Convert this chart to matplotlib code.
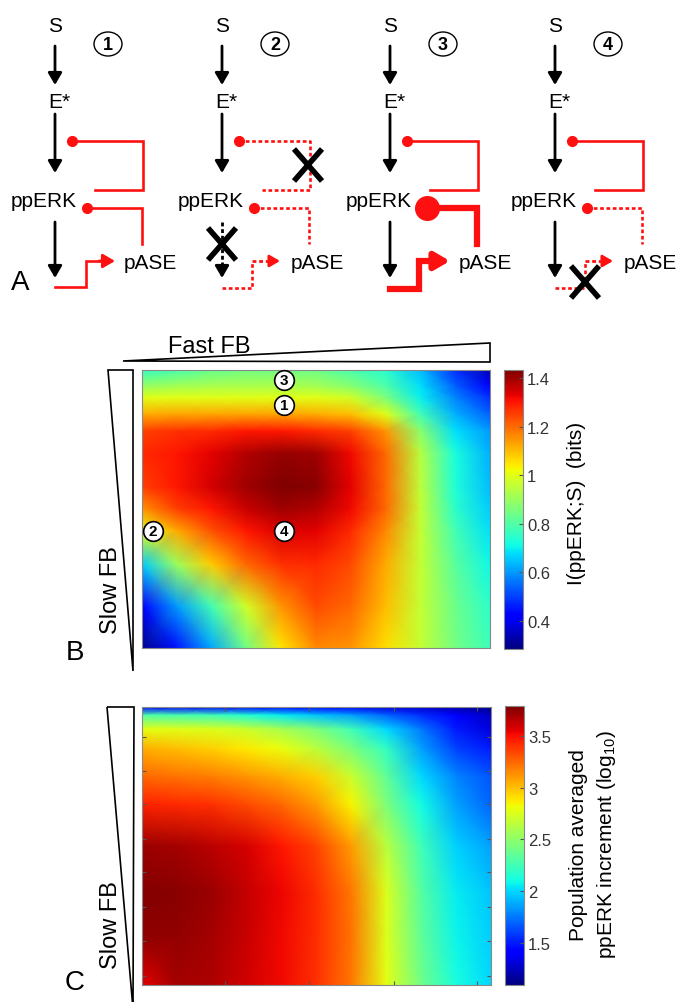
import matplotlib.pyplot as plt
from matplotlib.patches import Ellipse, Polygon
import numpy as np

plt.rcParams.update({"font.family": "Liberation Sans",
                     "mathtext.fontset": "custom",
                     "mathtext.rm": "Liberation Sans",
                     "mathtext.default": "regular"})

W, H = 677, 1003

# feedback strength grid (0 = weak, 1 = strong); rows run top -> bottom
fast_fb = [0.0, 0.1, 0.2, 0.3, 0.4, 0.5, 0.6, 0.7, 0.8, 0.9, 1.0]

# B: mutual information I(ppERK;S) in bits
slow_fb_b = [0.0, 0.06, 0.10, 0.16, 0.22, 0.30, 0.42, 0.50, 0.58, 0.70, 0.85, 1.0]
info_bits = [
    [0.76, 0.79, 0.83, 0.85, 0.85, 0.84, 0.79, 0.74, 0.64, 0.48, 0.34],
    [0.90, 0.92, 0.93, 0.93, 0.93, 0.92, 0.88, 0.80, 0.68, 0.54, 0.42],
    [1.00, 1.00, 1.00, 1.00, 1.00, 1.00, 0.98, 0.86, 0.70, 0.58, 0.48],
    [1.12, 1.13, 1.13, 1.13, 1.13, 1.12, 1.10, 1.00, 0.78, 0.63, 0.54],
    [1.25, 1.27, 1.28, 1.30, 1.30, 1.28, 1.25, 1.15, 0.88, 0.68, 0.60],
    [1.28, 1.30, 1.33, 1.38, 1.41, 1.40, 1.32, 1.20, 0.94, 0.72, 0.63],
    [1.25, 1.30, 1.35, 1.40, 1.43, 1.42, 1.33, 1.20, 0.95, 0.73, 0.64],
    [1.15, 1.25, 1.30, 1.36, 1.40, 1.38, 1.32, 1.20, 0.96, 0.75, 0.66],
    [1.00, 1.12, 1.23, 1.30, 1.34, 1.33, 1.28, 1.16, 0.96, 0.78, 0.68],
    [0.66, 0.90, 1.08, 1.20, 1.27, 1.28, 1.24, 1.12, 0.96, 0.81, 0.71],
    [0.42, 0.60, 0.78, 0.98, 1.15, 1.24, 1.20, 1.10, 0.96, 0.84, 0.75],
    [0.30, 0.45, 0.62, 0.85, 1.05, 1.16, 1.15, 1.06, 0.96, 0.85, 0.77],
]
info_lim = (0.285, 1.433)
info_ticks = [0.4, 0.6, 0.8, 1.0, 1.2, 1.4]
info_ticklabels = ["0.4", "0.6", "0.8", "1", "1.2", "1.4"]

# circled cases on panel B
case_labels = ["3", "1", "2", "4"]
case_fast = [0.408, 0.408, 0.032, 0.408]
case_slow = [0.036, 0.126, 0.579, 0.579]

# C: population averaged ppERK increment (log10)
slow_fb_c = [0.0, 0.03, 0.08, 0.15, 0.25, 0.35, 0.50, 0.67, 0.82, 1.0]
increment = [
    [1.43, 1.43, 1.43, 1.42, 1.42, 1.40, 1.38, 1.33, 1.28, 1.20, 1.12],
    [2.30, 2.28, 2.25, 2.15, 2.05, 1.95, 1.85, 1.70, 1.55, 1.42, 1.25],
    [2.78, 2.77, 2.75, 2.70, 2.58, 2.45, 2.25, 2.00, 1.75, 1.50, 1.32],
    [3.05, 3.00, 2.95, 2.88, 2.80, 2.65, 2.45, 2.20, 1.85, 1.60, 1.50],
    [3.25, 3.22, 3.18, 3.12, 3.05, 2.95, 2.70, 2.35, 2.00, 1.78, 1.65],
    [3.45, 3.43, 3.40, 3.33, 3.25, 3.10, 2.85, 2.45, 2.10, 1.85, 1.70],
    [3.72, 3.70, 3.65, 3.58, 3.48, 3.35, 3.10, 2.65, 2.25, 1.98, 1.85],
    [3.77, 3.76, 3.72, 3.63, 3.53, 3.42, 3.20, 2.75, 2.32, 2.05, 1.95],
    [3.75, 3.74, 3.70, 3.62, 3.52, 3.42, 3.22, 2.75, 2.35, 2.08, 1.97],
    [3.55, 3.70, 3.68, 3.60, 3.52, 3.40, 3.20, 2.78, 2.40, 2.12, 2.00],
]
incr_lim = (1.09, 3.79)
incr_ticks = [1.5, 2.0, 2.5, 3.0, 3.5]
incr_ticklabels = ["1.5", "2", "2.5", "3", "3.5"]

grid_xticks = [0.238, 0.478, 0.722, 0.961]
grid_yticks = [0.109, 0.229, 0.35, 0.475, 0.595, 0.72, 0.84, 0.966]


def frac(x0, y0, x1, y1):
    return [x0 / W, 1 - y1 / H, (x1 - x0) / W, (y1 - y0) / H]


fig = plt.figure(figsize=(W / 100, H / 100), dpi=100)


def heatmap(box, cbox, rows, vals, lim, ticks, ticklabels, grid_ticks):
    ax = fig.add_axes(frac(*box))
    mesh = ax.pcolormesh(fast_fb, rows, np.array(vals), shading="gouraud",
                         cmap="jet", vmin=lim[0], vmax=lim[1])
    ax.set_xlim(0, 1)
    ax.set_ylim(1, 0)
    if grid_ticks:
        ax.set_xticks(grid_xticks)
        ax.set_yticks(grid_yticks)
    else:
        ax.set_xticks([])
        ax.set_yticks([])
    ax.tick_params(direction="in", length=3, color="#555555", top=True,
                   right=True, labelbottom=False, labelleft=False)
    for s in ax.spines.values():
        s.set_color("#888888")
        s.set_linewidth(0.8)
    cax = fig.add_axes(frac(*cbox))
    cb = fig.colorbar(mesh, cax=cax, ticks=ticks)
    cb.ax.set_yticklabels(ticklabels)
    cb.outline.set_edgecolor("#888888")
    cb.outline.set_linewidth(0.8)
    cax.tick_params(direction="in", length=3, color="#555555", labelsize=12,
                    labelcolor="#333333", pad=3)
    return ax


ax_b = heatmap((142, 371, 490, 649), (504, 371, 523, 650), slow_fb_b,
               info_bits, info_lim, info_ticks, info_ticklabels, False)
ax_c = heatmap((142, 708, 491, 986), (505, 707, 524, 986), slow_fb_c,
               increment, incr_lim, incr_ticks, incr_ticklabels, True)

ax_b.scatter(case_fast, case_slow, s=200, facecolor="white", edgecolor="black",
             linewidth=1.2, zorder=5, clip_on=False)
for lab, x, y in zip(case_labels, case_fast, case_slow):
    ax_b.text(x, y, lab, ha="center", va="center", fontsize=11,
              fontweight="bold", zorder=6)

# overlay in pixel coordinates for the scheme, wedges and labels
ov = fig.add_axes([0, 0, 1, 1])
ov.set_xlim(0, W)
ov.set_ylim(H, 0)
ov.axis("off")
ov.patch.set_visible(False)

RED = "#ff1010"
DOT = (0, (1.4, 1.0))


def arrow(x0, y0, x1, y1, color="black", lw=2.0, ls="-", scale=13):
    if ls != "-":
        d = np.hypot(x1 - x0, y1 - y0)
        ux, uy = (x1 - x0) / d, (y1 - y0) / d
        hl = 0.55 * scale * 1.39
        ov.plot([x0, x1 - ux * hl], [y0, y1 - uy * hl], color=color, lw=lw,
                ls=ls, solid_capstyle="butt")
        x0, y0 = x1 - ux * hl, y1 - uy * hl
    ov.annotate("", xy=(x1, y1), xytext=(x0, y0),
                arrowprops=dict(arrowstyle="-|>,head_length=0.55,head_width=0.32",
                                mutation_scale=scale, lw=lw, color=color,
                                shrinkA=0, shrinkB=0))


def cross(x, y, sx=14, sy=16):
    ov.plot([x - sx, x + sx], [y - sy, y + sy], color="black", lw=4,
            solid_capstyle="butt")
    ov.plot([x - sx, x + sx], [y + sy, y - sy], color="black", lw=4,
            solid_capstyle="butt")


def inhibit(pts, ls="-", lw=1.9, ms=7):
    xs, ys = zip(*pts)
    ov.plot(xs, ys, color=RED, lw=lw, ls=ls, solid_joinstyle="miter")
    ov.plot(xs[0], ys[0], "o", color=RED, ms=ms)


txt = dict(fontsize=15, ha="center", va="baseline")
for i, x0 in enumerate([55, 222, 390, 555]):
    case = i + 1
    ov.text(x0, 32, "S", **txt)
    ov.text(x0 + 4, 108, "E*", **txt)
    ov.text(x0 - 11, 207, "ppERK", **txt)
    ov.text(x0 + 95, 269, "pASE", **txt)
    ov.add_patch(Ellipse((x0 + 53, 45), 28, 24, fill=False, lw=1.0,
                         edgecolor="black"))
    ov.text(x0 + 53, 45, str(case), ha="center", va="center", fontsize=13,
            fontweight="bold")
    arrow(x0, 47, x0, 86)
    arrow(x0, 115, x0, 174)
    arrow(x0, 223, x0, 279, ls=DOT if case == 2 else "-")

    # fast feedback
    inhibit([(x0 + 17, 142), (x0 + 88, 142), (x0 + 88, 191), (x0 + 40, 191)],
            ls=DOT if case == 2 else "-")
    # slow feedback
    if case == 3:
        inhibit([(x0 + 37, 209), (x0 + 87, 209), (x0 + 87, 245)], lw=4.5, ms=17)
    else:
        inhibit([(x0 + 32, 209), (x0 + 87, 209), (x0 + 87, 245)],
                ls="-" if case == 1 else DOT)
    # ppERK -> pASE activation
    if case == 3:
        ov.plot([x0, x0 + 29, x0 + 29, x0 + 40], [290, 290, 262, 262],
                color=RED, lw=4.5, solid_joinstyle="miter")
        arrow(x0 + 38, 262, x0 + 60, 262, color=RED, lw=4.5, scale=16)
    elif case == 1:
        ov.plot([x0, x0 + 31, x0 + 31, x0 + 45], [288, 288, 262, 262],
                color=RED, lw=1.9, solid_joinstyle="miter")
        arrow(x0 + 44, 262, x0 + 60, 262, color=RED)
    else:
        ov.plot([x0, x0 + 30, x0 + 30], [289, 289, 262], color=RED, lw=1.9,
                ls=DOT)
        arrow(x0 + 30, 262, x0 + 58, 262, color=RED, ls=DOT, scale=11)
    if case == 2:
        cross(x0 + 86, 166)
        cross(x0, 245)
    if case == 4:
        cross(x0 + 30, 283)

# feedback-strength wedges
wedge = dict(closed=True, fill=False, edgecolor="black", lw=1.2)
ov.add_patch(Polygon([(123, 362), (490, 344), (490, 363)], **wedge))
ov.add_patch(Polygon([(108, 371), (133, 371), (133, 672)], **wedge))
ov.add_patch(Polygon([(107, 708), (134, 708), (133, 1010)], **wedge))
ov.text(168, 353, "Fast FB", fontsize=17, ha="left", va="baseline")
ov.text(111, 590, "Slow FB", fontsize=17, rotation=90, ha="center", va="center")
ov.text(111, 925, "Slow FB", fontsize=17, rotation=90, ha="center", va="center")

# colorbar titles
ov.text(577, 503, "I(ppERK;S)  (bits)", fontsize=15, rotation=90,
        ha="center", va="center")
ov.text(578, 845, "Population averaged", fontsize=15, rotation=90,
        ha="center", va="center")
ov.text(607, 845, "ppERK increment (log$_{10}$)", fontsize=15, rotation=90,
        ha="center", va="center")

# panel letters
for lab, x, y in [("A", 20, 283), ("B", 75, 653), ("C", 75, 983)]:
    ov.text(x, y, lab, fontsize=20, ha="center", va="center")

fig.savefig("out.png", dpi=100)
